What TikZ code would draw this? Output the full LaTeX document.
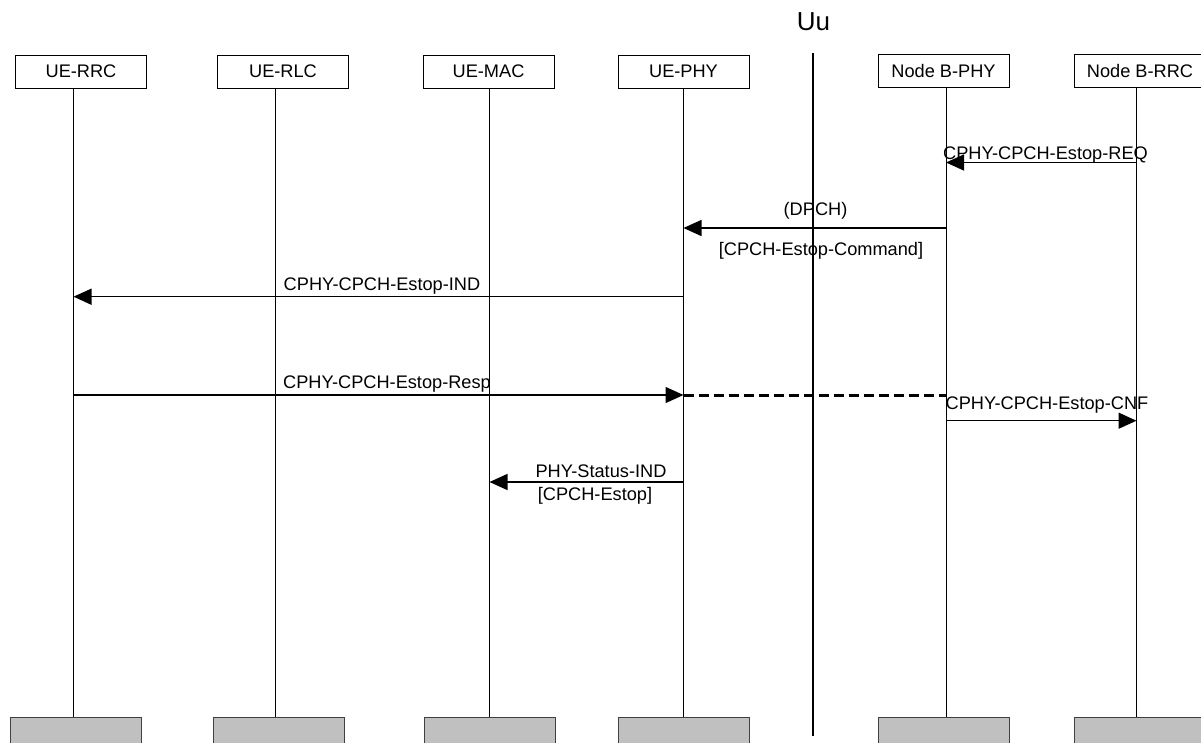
\documentclass[tikz,border=0pt]{standalone}
\usepackage{fontspec}
\setmainfont{Liberation Sans}
\usetikzlibrary{arrows.meta}
\definecolor{boxgray}{HTML}{C0C0C0}
\tikzset{
  lbl/.style={font=\fontsize{18.2}{22}\selectfont, inner sep=0pt, anchor=base},
  topbox/.style={draw=black, line width=0.9pt, minimum width=131pt, minimum height=33pt, inner sep=0pt, font=\fontsize{18.2}{22}\selectfont},
  botbox/.style={draw=black!75, fill=boxgray, line width=0.9pt, minimum width=131pt, minimum height=33pt, inner sep=0pt, anchor=north},
  life/.style={line width=0.9pt},
  msg/.style={line width=1.4pt, -{Triangle[length=18pt,width=16pt]}},
  dsh/.style={line width=2.5pt, dash pattern=on 10pt off 5pt},
}
\begin{document}
\begin{tikzpicture}[x=1pt,y=-1pt]
\clip (0,0) rectangle (1201,742);
\fill[white] (0,0) rectangle (1201,742);
% top boxes
\node[topbox] (t1) at (81,71.5) {UE-RRC};
\node[topbox] (t2) at (283,71.5) {UE-RLC};
\node[topbox] (t3) at (488.5,71.5) {UE-MAC};
\node[topbox] (t4) at (683.5,71.5) {UE-PHY};
\node[topbox] (t5) at (943.5,71) {Node B-PHY};
\node[topbox] (t6) at (1140,71) {Node B-RRC};
% bottom boxes
\node[botbox] (b1) at (75.5,717) {};
\node[botbox] (b2) at (278.5,717) {};
\node[botbox] (b3) at (490,717) {};
\node[botbox] (b4) at (684,717) {};
\node[botbox] (b5) at (944,717) {};
\node[botbox] (b6) at (1139.5,717) {};
% lifeline positions
\coordinate (l1) at (73.5,0);
\coordinate (l2) at (275.5,0);
\coordinate (l3) at (489.5,0);
\coordinate (l4) at (683.5,0);
\coordinate (l5) at (946,0);
\coordinate (l6) at (1136.5,0);
\draw[life] (t1.south -| l1) -- (b1.north -| l1);
\draw[life] (t2.south -| l2) -- (b2.north -| l2);
\draw[life] (t3.south -| l3) -- (b3.north -| l3);
\draw[life] (t4.south -| l4) -- (b4.north -| l4);
\draw[life] (t5.south -| l5) -- (b5.north -| l5);
\draw[life] (t6.south -| l6) -- (b6.north -| l6);
% Uu
\node[lbl, font=\fontsize{26}{30}\selectfont] (uu) at (813.5,30) {Uu};
\coordinate (uuT) at (813,53);
\coordinate (uuB) at (813,736);
\draw[line width=2pt] (uuT) -- (uuB);
% messages
\draw[msg] (l6 |- 0,162.5) -- (l5 |- 0,162.5);
\node[lbl] (m1) at (1045.5,159) {CPHY-CPCH-Estop-REQ};
\draw[msg] (l5 |- 0,228) -- (l4 |- 0,228);
\node[lbl] (m2a) at (815.5,215.5) {(DPCH)};
\node[lbl] (m2b) at (821,255) {[CPCH-Estop-Command]};
\draw[msg] (l4 |- 0,296.7) -- (l1 |- 0,296.7);
\node[lbl] (m3) at (382,290.5) {CPHY-CPCH-Estop-IND};
\draw[msg] (l1 |- 0,395) -- (l4 |- 0,395);
\node[lbl] (m4) at (387,388) {CPHY-CPCH-Estop-Resp};
\draw[dsh] (l4 |- 0,395.5) -- (l5 |- 0,395.5);
\draw[msg] (l5 |- 0,420.7) -- (l6 |- 0,420.7);
\node[lbl] (m5) at (1047,409) {CPHY-CPCH-Estop-CNF};
\draw[msg] (l4 |- 0,482) -- (l3 |- 0,482);
\node[lbl] (m6a) at (601,477.5) {PHY-Status-IND};
\node[lbl] (m6b) at (595,500) {[CPCH-Estop]};
\end{tikzpicture}
\end{document}
